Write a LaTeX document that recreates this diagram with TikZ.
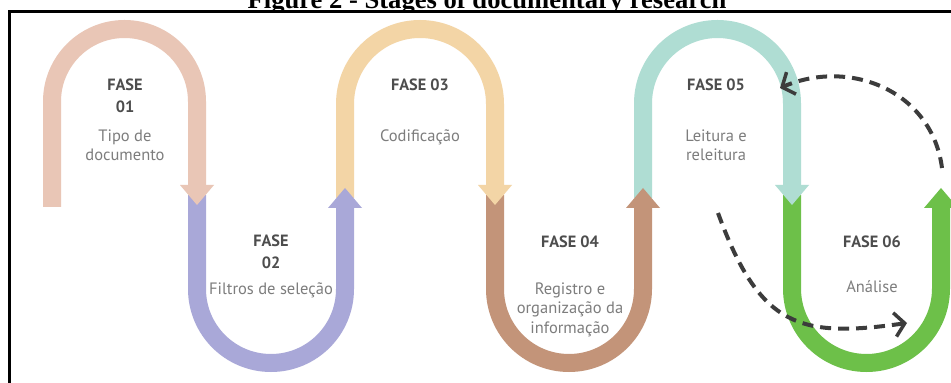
\documentclass[tikz,border=0pt]{standalone}
\usepackage{fontspec}
\setmainfont{PT Sans}
\newfontfamily\titlefont{Liberation Serif}
\usetikzlibrary{positioning,arrows.meta}

\definecolor{pinkA}{HTML}{E9C6B6}
\definecolor{lavB}{HTML}{A9A8D8}
\definecolor{peachC}{HTML}{F3D5A6}
\definecolor{brownD}{HTML}{C39479}
\definecolor{mintE}{HTML}{AFDDD3}
\definecolor{greenF}{HTML}{6DC049}
\definecolor{faseText}{HTML}{4D4D4D}
\definecolor{descText}{HTML}{7D7D7D}
\definecolor{loopGray}{HTML}{3C3C3C}

\begin{document}
\begin{tikzpicture}[x=1pt, y=1pt,
  band/.style={line width=18pt,
               -{Triangle[length=20pt,width=34pt,line width=0pt]}},
  fase/.style={font=\fontsize{16.3}{22}\selectfont\bfseries,
               text=faseText, align=center, inner sep=0pt},
  desc/.style={font=\fontsize{16.5}{19.5}\selectfont,
               text=descText, align=center, inner sep=0pt},
  backarrow/.style={draw=loopGray, line width=4pt,
                    dash pattern=on 11pt off 7pt,
                    -{Straight Barb[length=10pt,width=24pt,line width=3.5pt]}}
]
  \fill[white] (0,0) rectangle (951,383);
  \useasboundingbox (0,0) rectangle (951,383);

  % caption, cut at the top
  \node[anchor=base, inner sep=0pt,
        font=\titlefont\fontsize{26.6}{30}\selectfont\bfseries] (title)
    at (487,374) {Figure 2 - Stages of documentary research};
  \fill[white] (10,-10) rectangle (960,371.5);
  \draw[line width=2.7pt] (9.7,-10) -- (9.7,371.5) -- (960,371.5);

  % the six bands, last one first
  \draw[band, greenF] (792,188) -- (792,94.5) arc (180:360:74.5) -- (941,195);
  \draw[band, mintE]  (643,185) -- (643,279.5) arc (180:0:74.5) -- (792,178);
  \draw[band, brownD] (495,188) -- (495,94) arc (180:360:74) -- (643,195);
  \draw[band, peachC] (345,185) -- (345,279) arc (180:0:75) -- (495,178);
  \draw[band, lavB]   (197,188) -- (197,94) arc (180:360:74) -- (345,195);
  \draw[band, pinkA]  (52,176) -- (52,281.5) arc (180:0:72.5) -- (197,178);

  % labels
  \node[fase] (f1) at (125,287) {FASE\\01};
  \node[desc, below=16pt of f1] (d1) {Tipo de\\documento};

  \node[fase] (f2) at (271,131.5) {FASE\\02};
  \node[desc, below=14pt of f2] (d2) {Filtros de seleção};

  \node[fase] (f3) at (420,298) {FASE 03};
  \node[desc, below=38pt of f3] (d3) {Codificação};

  \node[fase] (f4) at (570,141) {FASE 04};
  \node[desc, below=34pt of f4] (d4) {Registro e\\organização da\\informação};

  \node[fase] (f5) at (716,298) {FASE 05};
  \node[desc, below=38pt of f5] (d5) {Leitura e\\releitura};

  \node[fase] (f6) at (872,141) {FASE 06};
  \node[desc, below=32pt of f6] (d6) {Análise};

  % dashed loop between 05 and 06
  \coordinate (loopA) at (942,215);
  \coordinate (loopB) at (780,295);
  \coordinate (loopC) at (718,170);
  \coordinate (loopD) at (907,60);
  \draw[backarrow] (loopA) .. controls (932,292) and (850,325) .. (loopB);
  \draw[backarrow] (loopC) .. controls (760,55) and (800,45) .. (loopD);
\end{tikzpicture}
\end{document}
